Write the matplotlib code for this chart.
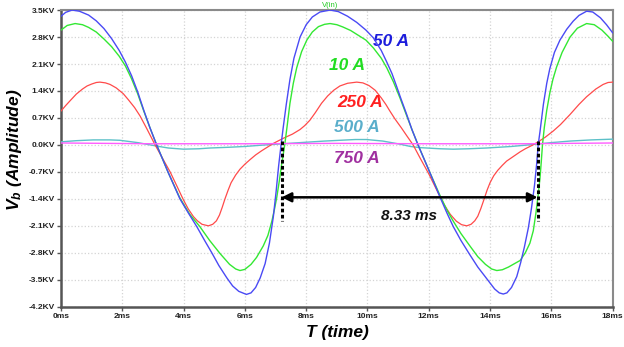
import matplotlib
matplotlib.use("Agg")
import matplotlib.pyplot as plt
from matplotlib.ticker import FuncFormatter

plt.rcParams['font.family'] = ['Liberation Sans', 'DejaVu Sans']
plt.rcParams['mathtext.fontset'] = 'custom'
plt.rcParams['mathtext.it'] = 'Liberation Sans:italic:bold'
plt.rcParams['mathtext.rm'] = 'Liberation Sans:bold'

# ---- data (time in ms, voltage in kV) ----
t_50 = [0.0, 0.15, 0.36, 0.6, 0.9, 1.15, 1.4, 1.65, 1.9, 2.1, 2.3, 2.5, 2.7, 2.9, 3.12,
        3.5, 3.88, 4.15, 4.43, 4.7, 4.92, 5.15, 5.41, 5.6, 5.8, 6.05, 6.2, 6.35, 6.5, 6.66,
        6.8, 6.93, 7.02, 7.1, 7.18, 7.25, 7.35, 7.47, 7.6, 7.8, 8.0, 8.2, 8.45, 8.78,
        9.05, 9.35, 9.65, 9.95, 10.19, 10.45, 10.63, 10.8, 10.95, 11.1, 11.28, 11.45, 11.65,
        12.0, 12.37, 12.6, 12.8, 13.05, 13.34, 13.6, 13.89, 14.15, 14.3, 14.43, 14.55, 14.7,
        14.87, 15.0, 15.12, 15.25, 15.35, 15.45, 15.52, 15.57, 15.63, 15.74, 15.85, 15.95,
        16.1, 16.28, 16.5, 16.71, 16.9, 17.15, 17.35, 17.6, 17.8, 18.0]
v_50 = [3.34, 3.44, 3.50, 3.47, 3.37, 3.22, 3.02, 2.76, 2.45, 2.15, 1.80, 1.38, 0.90, 0.45, 0.0,
        -0.72, -1.40, -1.76, -2.12, -2.50, -2.80, -3.13, -3.45, -3.66, -3.80, -3.88, -3.84, -3.70, -3.45, -3.08,
        -2.55, -1.85, -1.20, -0.55, 0.0, 0.45, 1.05, 1.70, 2.25, 2.80, 3.12, 3.32, 3.45, 3.50,
        3.46, 3.34, 3.18, 2.98, 2.78, 2.45, 2.15, 1.85, 1.52, 1.18, 0.79, 0.40, 0.0,
        -0.65, -1.36, -1.78, -2.12, -2.48, -2.85, -3.17, -3.47, -3.74, -3.84, -3.87, -3.84, -3.70,
        -3.42, -3.05, -2.65, -2.15, -1.65, -1.05, -0.50, 0.0, 0.35, 1.05, 1.60, 1.98,
        2.40, 2.72, 3.00, 3.21, 3.36, 3.47, 3.45, 3.30, 3.12, 2.91]

t_10 = [0.0, 0.2, 0.46, 0.7, 0.9, 1.15, 1.4, 1.65, 1.9, 2.1, 2.3, 2.5, 2.7, 2.9, 3.12,
        3.5, 3.88, 4.2, 4.53, 4.85, 5.19, 5.5, 5.7, 5.84, 6.0, 6.2, 6.38, 6.6, 6.75, 6.88,
        6.97, 7.04, 7.12, 7.2, 7.3, 7.38, 7.47, 7.58, 7.69, 7.85, 8.02, 8.2, 8.4, 8.6, 8.78,
        9.0, 9.2, 9.45, 9.65, 9.95, 10.19, 10.45, 10.63, 10.85, 11.06, 11.25, 11.45, 11.65,
        12.0, 12.37, 12.6, 12.8, 13.05, 13.34, 13.6, 13.85, 14.05, 14.22, 14.4, 14.6, 14.8,
        14.98, 15.15, 15.3, 15.41, 15.5, 15.57, 15.63, 15.67, 15.71, 15.77, 15.85, 15.95,
        16.05, 16.17, 16.35, 16.61, 16.85, 17.15, 17.4, 17.65, 17.85, 18.0]
v_10 = [2.98, 3.10, 3.15, 3.12, 3.05, 2.93, 2.75, 2.55, 2.30, 2.05, 1.72, 1.33, 0.88, 0.45, 0.0,
        -0.72, -1.38, -1.80, -2.12, -2.48, -2.82, -3.10, -3.22, -3.26, -3.23, -3.10, -2.92, -2.62, -2.35, -1.98,
        -1.65, -1.36, -0.95, -0.50, 0.0, 0.50, 1.08, 1.60, 2.00, 2.42, 2.72, 2.93, 3.07, 3.13, 3.15,
        3.12, 3.06, 2.97, 2.87, 2.72, 2.52, 2.25, 2.00, 1.63, 1.22, 0.82, 0.40, 0.0,
        -0.65, -1.32, -1.70, -1.98, -2.30, -2.62, -2.90, -3.10, -3.22, -3.26, -3.24, -3.17, -3.08,
        -3.00, -2.80, -2.55, -2.23, -1.75, -1.30, -0.85, -0.45, 0.0, 0.45, 0.90, 1.35,
        1.70, 2.02, 2.40, 2.80, 3.03, 3.15, 3.12, 2.98, 2.82, 2.69]

t_250 = [0.0, 0.15, 0.3, 0.5, 0.7, 0.85, 1.0, 1.15, 1.27, 1.45, 1.6, 1.8, 2.03, 2.2, 2.4,
         2.58, 2.8, 3.07, 3.3, 3.56, 3.8, 3.99, 4.15, 4.32, 4.45, 4.6, 4.81, 4.95, 5.07, 5.17,
         5.26, 5.35, 5.45, 5.55, 5.7, 5.84, 6.0, 6.17, 6.35, 6.55, 6.75, 6.93, 7.1, 7.3, 7.55,
         7.8, 7.95, 8.12, 8.3, 8.5, 8.7, 8.9, 9.1, 9.35, 9.65, 9.85, 10.05, 10.25, 10.45, 10.6,
         10.73, 10.9, 11.1, 11.28, 11.49, 11.71, 12.0, 12.26, 12.5, 12.7, 12.9, 13.07, 13.24,
         13.38, 13.5, 13.6, 13.7, 13.8, 13.9, 14.0, 14.12, 14.25, 14.4, 14.54, 14.76, 14.98,
         15.15, 15.35, 15.57, 15.8, 16.06, 16.3, 16.61, 16.9, 17.15, 17.45, 17.69, 17.85, 18.0]
v_250 = [0.88, 1.02, 1.15, 1.32, 1.45, 1.53, 1.58, 1.62, 1.63, 1.61, 1.57, 1.48, 1.33, 1.17, 0.97,
         0.75, 0.42, 0.0, -0.33, -0.70, -1.10, -1.42, -1.66, -1.86, -1.97, -2.06, -2.10, -2.06, -1.97, -1.82,
         -1.62, -1.40, -1.18, -0.98, -0.78, -0.63, -0.50, -0.38, -0.26, -0.15, -0.05, 0.04, 0.11, 0.19, 0.28,
         0.40, 0.50, 0.64, 0.84, 1.08, 1.27, 1.42, 1.53, 1.60, 1.63, 1.61, 1.54, 1.42, 1.22, 1.05,
         0.88, 0.67, 0.45, 0.24, 0.0, -0.33, -0.75, -1.17, -1.55, -1.80, -1.98, -2.07, -2.10,
         -2.06, -1.97, -1.85, -1.65, -1.42, -1.18, -0.98, -0.80, -0.66, -0.53, -0.42, -0.30, -0.18,
         -0.10, -0.02, 0.08, 0.20, 0.36, 0.53, 0.79, 1.05, 1.25, 1.45, 1.57, 1.62, 1.63]

t_500 = [0.0, 0.5, 1.05, 1.6, 1.92, 2.5, 3.12, 3.5, 3.99, 4.5, 4.86, 5.5, 6.0, 6.49, 7.25, 8.0,
         8.6, 9.1, 9.6, 9.97, 10.5, 11.06, 11.4, 11.71, 12.37, 12.8, 13.3, 13.89, 14.7, 15.52,
         16.0, 16.61, 17.3, 18.0]
v_500 = [0.08, 0.11, 0.13, 0.13, 0.12, 0.06, -0.03, -0.08, -0.11, -0.10, -0.08, -0.06, -0.04, -0.01, 0.03, 0.07,
         0.10, 0.12, 0.14, 0.14, 0.10, 0.02, -0.04, -0.07, -0.10, -0.11, -0.10, -0.08, -0.04, 0.02,
         0.06, 0.10, 0.13, 0.15]

t_750 = [0.0, 3.0, 6.0, 9.0, 12.0, 15.0, 18.0]
v_750 = [0.05, 0.03, 0.03, 0.04, 0.03, 0.03, 0.05]

x_ticks = [0, 2, 4, 6, 8, 10, 12, 14, 16, 18]
y_ticks = [-4.2, -3.5, -2.8, -2.1, -1.4, -0.7, 0.0, 0.7, 1.4, 2.1, 2.8, 3.5]

labels = ['50 A', '10 A', '250 A', '500 A', '750 A']
t_start, t_end = 7.2, 15.55
period_label = '8.33 ms'

# ---- figure ----
fig = plt.figure(figsize=(6.24, 3.47), dpi=100)
ax = fig.add_axes([0.0978, 0.116, 0.884, 0.855])

ax.plot(t_500, v_500, color='#5cc0c8', lw=1.0, zorder=3)
ax.plot(t_250, v_250, color='#ff4a4a', lw=0.9, zorder=3)
ax.plot(t_10, v_10, color='#33e833', lw=1.0, zorder=4)
ax.plot(t_50, v_50, color='#4a4af5', lw=1.0, zorder=5)
ax.plot(t_750, v_750, color='#ff5cff', lw=1.0, zorder=6)

ax.set_xlim(0, 18)
ax.set_ylim(-4.2, 3.5)
ax.set_xticks(x_ticks)
ax.set_yticks(y_ticks)
ax.xaxis.set_major_formatter(FuncFormatter(lambda v, p: f"{int(round(v))}ms"))
ax.yaxis.set_major_formatter(FuncFormatter(lambda v, p: f"{v:.1f}KV"))
ax.tick_params(axis='both', direction='out', length=3, width=1, color='#555555',
               labelsize=6, pad=1.5)
for lab in ax.get_xticklabels() + ax.get_yticklabels():
    lab.set_fontweight('bold')
    lab.set_color('#222222')

ax.grid(True, color='#d4d4d4', linestyle=':', linewidth=0.9)
ax.set_axisbelow(True)
for s in ['left', 'bottom']:
    ax.spines[s].set_linewidth(1.8)
    ax.spines[s].set_color('#555555')
for s in ['top', 'right']:
    ax.spines[s].set_linewidth(1.5)
    ax.spines[s].set_color('#8a8a8a')

# period markers
ax.plot([t_start, t_start], [0.1, -1.98], color='black', lw=2.2, ls=(0, (1.2, 0.8)), zorder=7)
ax.plot([t_end, t_end], [0.1, -1.98], color='black', lw=2.2, ls=(0, (1.2, 0.8)), zorder=7)
ax.annotate('', xy=(t_start, -1.36), xytext=(t_end, -1.36),
            arrowprops=dict(arrowstyle='<|-|>', lw=1.8, color='black', mutation_scale=14,
                            shrinkA=0, shrinkB=0), zorder=8)
ax.text(11.35, -1.84, period_label, ha='center', va='center', fontsize=11,
        fontweight='bold', fontstyle='italic', color='#111111')

# series labels
lab_kw = dict(ha='center', va='center', fontsize=12.5, fontweight='bold', fontstyle='italic')
ax.text(10.77, 2.69, labels[0], color='#1c1cdc', **lab_kw)
ax.text(9.33, 2.07, labels[1], color='#22dd22', **lab_kw)
ax.text(9.76, 1.09, labels[2], color='#ff2020', **lab_kw)
ax.text(9.66, 0.44, labels[3], color='#5aaecb', **lab_kw)
ax.text(9.66, -0.36, labels[4], color='#a030a0', **lab_kw)

ax.text(8.78, 3.53, 'V(in)', color='#22cc22', fontsize=5.5, ha='center', va='bottom')

fig.text(15 / 624, 1 - 150 / 347, r'$V_b$ (Amplitude)', rotation=90, ha='center', va='center',
         fontsize=12.5, fontweight='bold', fontstyle='italic')
fig.text(337 / 624, 1 - 333 / 347, 'T (time)', ha='center', va='center',
         fontsize=12.5, fontweight='bold', fontstyle='italic')

fig.savefig('out.png', dpi=100)
